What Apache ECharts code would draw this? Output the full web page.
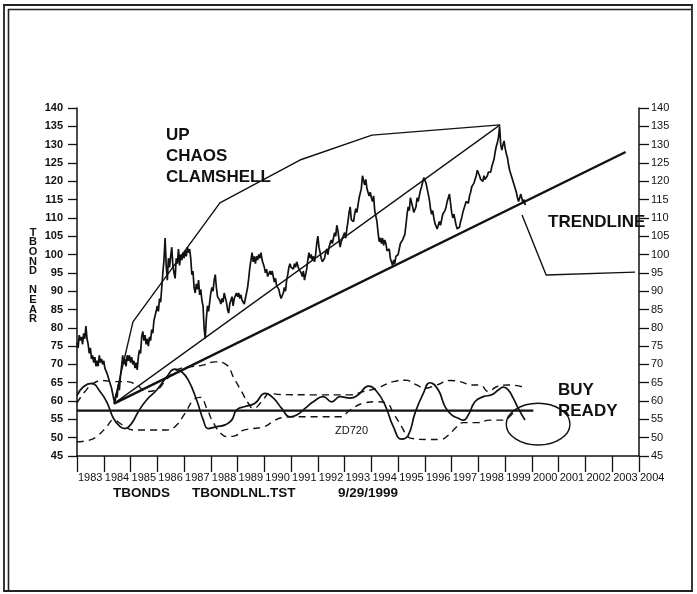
<!DOCTYPE html>
<html><head><meta charset="utf-8">
<script src="https://cdn.jsdelivr.net/npm/echarts@6/dist/echarts.min.js"></script>
<style>html,body{margin:0;padding:0;background:#fff}#c{width:697px;height:594px}</style>
</head><body><div id="c"></div>
<script>
// ---- data ----
var yearTicks = [1983,1984,1985,1986,1987,1988,1989,1990,1991,1992,1993,1994,1995,1996,1997,1998,1999,2000,2001,2002,2003,2004];
var priceStart = 1983.0;
var priceStepPerYear = 24; // semi-monthly readings
var priceValues = [
 76,74.5,78,76.5,77.5,75.5,78.5,77,80.5,77,75.5,73,
 74.5,71.5,72.5,70.5,72,69.5,71,69.5,72.5,70.5,71.5,70,
 71,69,69.5,67.5,68,65.5,66,63.5,64,60.5,59.5,62,
 61,64.5,63,67,69.5,72.5,70,71.5,69.5,72.5,71,72.5,
 70.5,72,70,71,69,70.5,68.5,72,74,73,77.5,79,
 76.5,78,75.5,77,75,77.5,76.5,79.5,78.5,82,81.5,84.5,
 86,84.5,88,87,91,95,98.5,104.5,97,93,99,96.5,
 99.5,102,97,95,93.5,99,97.5,101.5,97,100,98.5,100.5,
 99,101,99.5,102,100.5,101.5,99,94.5,95.5,91,89.5,92,
 90.5,93,89,90.5,87.5,86,80,77,82.5,86,84.5,87,
 89.5,91,90,93,94.5,91,88.5,89,87.5,86.5,88,87,
 89.5,90,87,85,84,86.5,87.5,88.5,86,88,87.5,89.5,
 88.5,89.5,88,89,87.5,88,86.5,87,89.5,91,93.5,96.5,
 98.5,100.5,98,99.5,97.5,99.5,98.5,100,99,100.5,98.5,97.5,
 96.5,95,96,94,93.5,95.5,94.5,95.5,94,92.5,93.5,91.5,
 92,90.5,89,88,87.5,89.5,91,90,93,94.5,96.5,97.5,
 96.5,97,96,97.5,96.5,98,97.5,96,96.5,95,94,95.5,
 93,94.5,96,98.5,100.5,99,100,98.5,99.5,98,100,103,
 105,102,100.5,99,98,97.5,99,100.5,101.5,100,102,103,
 104,103,104.5,106,105,108,106.5,104,102,103.5,104.5,105,
 106,104.5,107,109,111.5,113,109.5,110,109,111,112.5,111.5,
 113.5,115.5,115,118,121.5,122,119,120.5,118,118.5,116,117,
 115.5,114.5,116,112,110.5,109,106,103.5,104.5,103,104.5,102.5,
 104,103,101,100.5,101.5,99,98.5,97,98.5,97.5,99.5,99,
 100,101.5,103,102.5,104,103.5,105.5,108,111,113,112,115.5,
 115,113,111.5,111,113,115.5,114.5,116,117.5,118.5,119,121,
 121,119.5,118,117.5,115,112.5,111,112,110,108.5,109,107,
 107.5,109,108,109.5,111,110.5,112,113,114.5,115,116.5,114,
 111.5,110,111,109.5,108,107,106.5,107.5,109,110,111.5,112.5,
 113,114.5,115,114,116,117,118.5,118,119.5,120,121.5,123,
 122.5,121.5,120.5,121,120,121.5,120.5,121,121.5,122.5,123,122.5,
 124,124.5,126,128,129.5,130.5,132,135,130,128.5,130,131,
 129,127.5,126.5,124.5,123,122,121,120,119.5,118,117,115.5,
 114.5,115.5,116.5,116,114,115,113.5
];
var clamshellTop = [[1984.38,59.3],[1985.09,81.6],[1988.34,114.1],[1991.33,125.8],[1994.02,132.6],[1998.81,135.4]];
var clamshellInner = [[1984.38,59.3],[1998.81,135.4]];
var trendLine = [[1984.38,59.3],[2003.5,128.0]];
var pointerLine = [[1999.63,110.8],[2000.53,94.4],[2003.85,95.2]];
var levelLine = [[1983,57.4],[2000.05,57.4]];
var oscillator = [
 [1983.0,61.5],[1983.24,63.9],[1983.55,64.8],[1983.86,62.6],[1984.11,59.8],[1984.36,55.3],[1984.61,53.0],[1984.79,52.5],
 [1985.04,53.9],[1985.29,57.1],[1985.6,60.3],[1985.98,63.0],[1986.35,66.6],[1986.66,68.7],[1986.91,68.0],[1987.16,65.7],
 [1987.47,60.3],[1987.72,54.8],[1987.9,52.5],[1988.22,53.0],[1988.53,53.5],[1988.78,54.8],[1988.97,57.6],[1989.28,58.5],
 [1989.65,59.4],[1990.03,62.1],[1990.34,60.8],[1990.65,58.0],[1990.96,55.7],[1991.21,56.2],[1991.52,58.0],[1991.83,59.8],
 [1992.2,61.2],[1992.52,59.8],[1992.83,61.2],[1993.2,60.8],[1993.51,61.7],[1993.89,64.1],[1994.2,62.6],[1994.51,58.9],
 [1994.82,53.0],[1995.13,49.6],[1995.38,50.7],[1995.63,56.7],[1995.94,62.1],[1996.19,65.0],[1996.5,63.0],[1996.75,58.5],
 [1997.0,56.2],[1997.25,55.3],[1997.44,54.8],[1997.62,56.2],[1997.87,59.8],[1998.18,61.2],[1998.5,61.7],[1998.74,63.0],
 [1998.93,63.8],[1999.12,63.0],[1999.3,60.8],[1999.49,58.0],[1999.74,54.8]
];
var bandUpper = [
 [1983.0,59.5],[1983.3,62.6],[1983.61,64.8],[1983.98,65.6],[1984.36,65.3],[1984.86,65.3],[1985.23,64.4],[1985.6,62.6],
 [1985.95,63.0],[1986.3,65.5],[1986.6,67.8],[1986.9,69.0],[1987.3,69.4],[1987.7,69.8],[1988.16,70.7],[1988.6,69.8],
 [1988.84,66.6],[1989.15,62.6],[1989.4,59.4],[1989.59,58.0],[1989.9,59.8],[1990.21,62.1],[1990.59,61.8],[1991.83,61.7],
 [1993.2,61.7],[1993.7,62.6],[1994.2,63.5],[1994.82,65.3],[1995.26,65.7],[1995.69,64.4],[1996.0,63.5],[1996.44,64.4],
 [1996.94,65.6],[1997.31,65.3],[1997.75,64.4],[1998.06,64.4],[1998.37,62.6],[1998.68,63.9],[1999.12,64.4],[1999.68,63.8]
];
var bandLower = [
 [1983.0,48.9],[1983.49,49.4],[1983.8,50.7],[1984.11,53.0],[1984.36,54.8],[1984.7,53.5],[1985.1,52.1],[1985.73,52.1],
 [1986.35,52.1],[1986.66,53.0],[1987.04,56.7],[1987.35,60.3],[1987.6,61.0],[1987.85,58.0],[1988.1,54.0],[1988.4,51.0],
 [1988.6,50.3],[1988.9,50.5],[1989.2,52.0],[1989.6,52.5],[1990.0,53.0],[1990.4,54.8],[1990.7,55.5],[1991.0,55.7],
 [1992.0,55.7],[1992.83,55.7],[1993.2,57.5],[1993.7,59.4],[1994.2,59.8],[1994.57,59.4],[1994.82,56.7],[1995.13,53.0],
 [1995.32,50.7],[1995.5,49.8],[1996.07,49.5],[1996.56,49.5],[1996.88,50.7],[1997.19,53.0],[1997.44,54.1],[1997.94,54.1],
 [1998.43,54.8],[1998.93,54.8],[1999.2,56.0],[1999.37,57.6]
];
var buyReadyEllipse = [[2000.23,53.7,1.19,5.7]]; // centre year, centre value, x-radius (years), y-radius (value)

// ---- chart ----
var FONT = '"Liberation Sans", Arial, Helvetica, sans-serif';
var priceData = priceValues.map(function(v,i){ return [priceStart + i/priceStepPerYear, v]; });
function lineSeries(data, w, dashed, smooth){
  return {type:'line', data:data, showSymbol:false, symbol:'none', smooth:!!smooth, silent:true,
    lineStyle:{color:'#111', width:w, type: dashed ? [7,5] : 'solid'}, z:3};
}
var chart = echarts.init(document.getElementById('c'), null, {renderer:'canvas'});
var axisCommon = {
  type:'value', min:45, max:140, interval:5,
  axisLine:{show:true, lineStyle:{color:'#111', width:1.5}},
  axisTick:{show:true, inside:false, length:9, lineStyle:{color:'#111', width:1.3}},
  splitLine:{show:false}
};
chart.setOption({
  animation:false,
  backgroundColor:'#fff',
  grid:{left:77, right:58, top:108, bottom:138, containLabel:false},
  xAxis:{
    type:'value', min:1983, max:2004, interval:1,
    axisLine:{show:true, onZero:false, lineStyle:{color:'#111', width:1.5}},
    axisTick:{show:true, inside:false, length:16, lineStyle:{color:'#111', width:1.3}},
    axisLabel:{show:true, margin:16, align:'left', color:'#111', fontFamily:FONT, fontSize:11,
      padding:[0,0,0,1],
      formatter:function(v){ return yearTicks.indexOf(Math.round(v))>=0 ? String(Math.round(v)) : ''; }},
    splitLine:{show:false}
  },
  yAxis:[
    Object.assign({}, axisCommon, {position:'left',
      axisLabel:{margin:14, color:'#111', fontFamily:FONT, fontSize:11, fontWeight:'bold'}}),
    Object.assign({}, axisCommon, {position:'right', axisTick:{show:true, inside:false, length:10, lineStyle:{color:'#111', width:1.3}},
      axisLabel:{margin:12, color:'#111', fontFamily:FONT, fontSize:11}})
  ],
  series:[
    lineSeries(priceData, 1.7),
    lineSeries(clamshellTop, 1.4),
    lineSeries(clamshellInner, 1.3),
    lineSeries(trendLine, 2.4),
    lineSeries(pointerLine, 1.4),
    lineSeries(levelLine, 2.2),
    lineSeries(oscillator, 1.7, false, 0.4),
    lineSeries(bandUpper, 1.4, true, 0.4),
    lineSeries(bandLower, 1.4, true, 0.4),
    {type:'custom', data:buyReadyEllipse, silent:true, z:4,
     renderItem:function(params, api){
       var c = api.coord([api.value(0), api.value(1)]);
       var s = api.size([api.value(2), api.value(3)]);
       return {type:'ellipse', shape:{cx:c[0], cy:c[1], rx:s[0], ry:s[1]},
         style:{fill:null, stroke:'#111', lineWidth:1.4}};
     }}
  ],
  graphic:[
    {type:'rect', shape:{x:4, y:5, width:688, height:586}, style:{fill:null, stroke:'#222', lineWidth:1.8}, silent:true},
    {type:'line', shape:{x1:8.5, y1:9, x2:8.5, y2:590}, style:{stroke:'#222', lineWidth:1.6}, silent:true},
    {type:'line', shape:{x1:8, y1:9.5, x2:691, y2:9.5}, style:{stroke:'#222', lineWidth:1.6}, silent:true},
    {type:'text', left:166, top:125, style:{text:'UP\nCHAOS\nCLAMSHELL', fill:'#111', font:'bold 17px '+FONT, lineHeight:21}},
    {type:'text', left:548, top:214, style:{text:'TRENDLINE', fill:'#111', font:'bold 17px '+FONT}},
    {type:'text', left:558, top:380, style:{text:'BUY\nREADY', fill:'#111', font:'bold 17px '+FONT, lineHeight:21}},
    {type:'text', left:335, top:425, style:{text:'ZD720', fill:'#111', font:'11px '+FONT}},
    {type:'text', x:33, y:228, style:{text:'T\nB\nO\nN\nD\n \nN\nE\nA\nR', fill:'#111', font:'bold 11px '+FONT, lineHeight:9.6, align:'center', verticalAlign:'top'}},
    {type:'text', left:113, top:486, style:{text:'TBONDS', fill:'#111', font:'bold 13.5px '+FONT}},
    {type:'text', left:192, top:486, style:{text:'TBONDLNL.TST', fill:'#111', font:'bold 13.5px '+FONT}},
    {type:'text', left:338, top:486, style:{text:'9/29/1999', fill:'#111', font:'bold 13.5px '+FONT}}
  ]
});
</script></body></html>
